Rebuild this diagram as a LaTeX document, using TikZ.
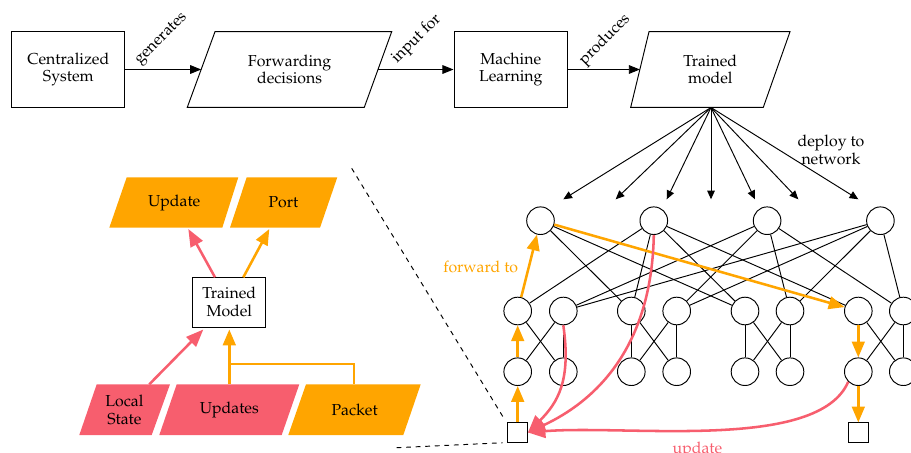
\documentclass[tikz,border=0pt]{standalone}
\usepackage[T1]{fontenc}
\usepackage{mathpazo}
\usetikzlibrary{arrows.meta}
\definecolor{org}{RGB}{255,165,0}
\definecolor{pnk}{RGB}{247,94,110}
\begin{document}
\begin{tikzpicture}[x=0.63pt,y=-0.63pt,
  font=\fontsize{10}{11.2}\selectfont,
  nd/.style={circle, draw, line width=0.6pt, minimum size=17.4pt, inner sep=0pt},
  host/.style={rectangle, draw, line width=0.6pt, minimum size=12.3pt, inner sep=0pt},
  net/.style={line width=0.6pt},
  box/.style={rectangle, draw, line width=0.6pt, align=center, inner sep=0pt},
  txt/.style={align=center, inner sep=0pt},
  blk/.style={line width=0.6pt, -{Triangle[length=7pt,width=5.5pt]}},
  dep/.style={line width=0.6pt, -{Triangle[length=5.5pt,width=4.8pt]}},
  ora/.style={draw=org, line width=1.6pt, -{Triangle[length=10pt,width=8pt]}},
  pka/.style={draw=pnk, line width=1.6pt, -{Triangle[length=11pt,width=8.5pt]}},
  orl/.style={draw=org, line width=1.6pt},
  outl/.style={draw, line width=0.6pt},
  zoomline/.style={line width=0.6pt, dashed}]
\clip (0,0) rectangle (911,452);

% ---------- top flow ----------
\node[box, minimum width=71.4pt, minimum height=47.6pt] (cs) at (68.3,69.5) {Centralized\\System};
\path[outl] (215,31.7) -- (391.7,31.7) -- (364.3,107.3) -- (187.3,107.3) -- cycle;
\node[txt] (fd) at (289.6,69.5) {Forwarding\\decisions};
\coordinate (fdw) at (201.2,69.5);
\coordinate (fde) at (378,69.5);
\node[box, minimum width=71.6pt, minimum height=47.6pt] (ml) at (510.8,69.5) {Machine\\Learning};
\path[outl] (649,31.7) -- (790,31.7) -- (763.3,107.3) -- (630.7,107.3) -- cycle;
\node[txt] (tm) at (710.3,69.5) {Trained\\model};
\coordinate (tmw) at (639.9,69.5);
\coordinate (tms) at (711,107.5);

\draw[blk] (cs.east) -- (fdw);
\draw[blk] (fde) -- (ml.west);
\draw[blk] (ml.east) -- (tmw);
\node[txt, rotate=45] (lg) at (161.7,39.2) {generates};
\node[txt, rotate=45] (li) at (416.7,39.2) {input for};
\node[txt, rotate=45] (lp) at (605,40) {produces};

% deploy arrows
\foreach \k/\x in {1/563.3,2/615.7,3/666.7,4/711,5/755,6/798.3,7/858.3}{
  \coordinate (d\k) at (\x,199.3);
  \draw[dep] (tms) -- (d\k);
}
\node[txt] (dl) at (831,150) {deploy to\\network};

% ---------- network ----------
\foreach \i/\x in {1/540.5,2/653.8,3/767.1,4/880.4}
  \node[nd] (c\i) at (\x,220.7) {};
\foreach \i/\x in {1/517.7,2/563.3,3/631.3,4/676.7,5/745,6/790,7/858.3,8/903.3}{
  \node[nd] (a\i) at (\x,311) {};
  \node[nd] (e\i) at (\x,371.7) {};
}
\node[host] (h1) at (517.7,432.5) {};
\node[host] (h2) at (858.3,432.7) {};

% core to aggregation
\foreach \a in {3,5} \draw[net] (c1) -- (a\a);
\foreach \a in {1,3,5,7} \draw[net] (c2) -- (a\a);
\foreach \a in {2,4,6,8} { \draw[net] (c3) -- (a\a); \draw[net] (c4) -- (a\a); }
% aggregation to edge
\foreach \p/\q in {1/2,3/4,5/6,7/8}{
  \draw[net] (a\p) -- (e\q);
  \draw[net] (a\q) -- (e\p);
  \draw[net] (a\q) -- (e\q);
}
\foreach \p in {3,5} \draw[net] (a\p) -- (e\p);

% orange forwarding path
\draw[ora] (h1) -- (e1);
\draw[ora] (e1) -- (a1);
\draw[ora] (a1) -- (c1);
\draw[ora] (c1) -- (a7);
\draw[ora] (a7) -- (e7);
\draw[ora] (e7) -- (h2);
\node[txt, text=org] (fw) at (480.7,267.3) {forward to};

% pink update curves
\draw[pka] (a2.south) .. controls +(8,55) and +(30,-30) .. (h1.east);
\draw[pka] (c2.south) .. controls +(-2,105) and +(75,-35) .. (h1.east);
\draw[pka] (e7.south west) .. controls +(-30,70) and +(100,-8) .. (h1.east);
\node[anchor=base, text=pnk, inner sep=0pt] (ul) at (697.5,453.5) {update};

% ---------- left detail ----------
\fill[org] (126.7,177.3) -- (238.3,177.3) -- (222.3,227.7) -- (109.3,227.7) -- cycle;
\node[txt] (upd) at (174.2,202.5) {Update};
\coordinate (upds) at (188.3,229);
\fill[org] (246.7,177.3) -- (337.3,177.3) -- (320,227.7) -- (230,227.7) -- cycle;
\node[txt] (port) at (283.5,202.5) {Port};
\coordinate (ports) at (269.3,229);

\node[box, minimum width=46.2pt, minimum height=31.5pt, fill=white] (tm2) at (229.3,302.3) {Trained\\Model};
\coordinate (tmn1) at (215,277.3);
\coordinate (tmn2) at (243.3,277.3);
\coordinate (tms1) at (203.3,329.5);
\coordinate (tms2) at (229.3,329.5);

\fill[pnk] (96.7,384.3) -- (170,384.3) -- (151.7,435) -- (79.3,435) -- cycle;
\node[txt] (ls) at (124.4,409.7) {Local\\State};
\coordinate (lsn) at (149.3,384.3);
\fill[pnk] (176.7,384.3) -- (299.3,384.3) -- (281.7,435) -- (159.3,435) -- cycle;
\node[txt] (ups) at (229.3,409.7) {Updates};
\coordinate (upsn) at (229.3,384.3);
\fill[org] (306,384.3) -- (420.7,384.3) -- (403.3,435) -- (288.3,435) -- cycle;
\node[txt] (pk) at (354.6,409.7) {Packet};
\coordinate (pkn) at (354,384.3);
\coordinate (jn) at (229.3,364);

\draw[pka] (tmn1) -- (upds);
\draw[ora] (tmn2) -- (ports);
\draw[pka] (lsn) -- (tms1);
\draw[ora] (upsn) -- (tms2);
\draw[orl] (pkn) |- (jn);

% zoom lines
\coordinate (z1) at (351.7,168.3);
\coordinate (z2) at (396.7,447.7);
\draw[zoomline] (z1) -- ([shift={(-3,-3)}]h1.north west);
\draw[zoomline] (z2) -- ([xshift=-3]h1.south west);
\end{tikzpicture}
\end{document}
